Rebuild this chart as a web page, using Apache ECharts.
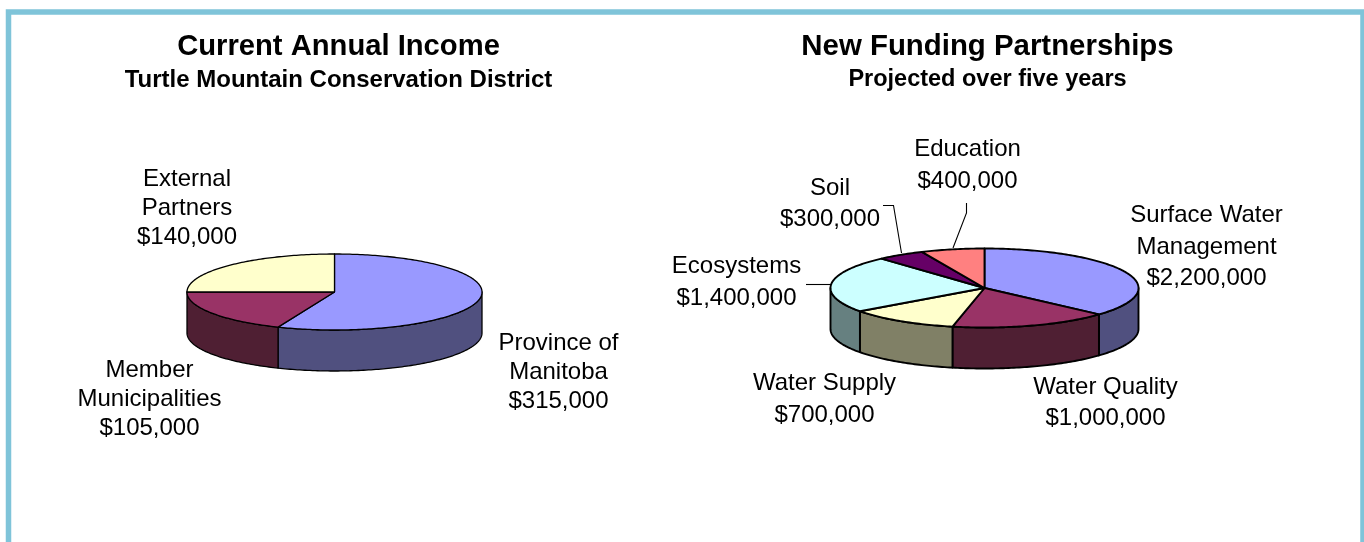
<!DOCTYPE html>
<html>
<head>
<meta charset="utf-8">
<style>
  html, body { margin: 0; padding: 0; background: #fff; }
  #chart { width: 1364px; height: 542px; }
</style>
<script src="https://cdn.jsdelivr.net/npm/echarts@6/dist/echarts.min.js"></script>
</head>
<body>
<div id="chart"></div>
<script>
const incomeNames = ['Province of\nManitoba', 'Member\nMunicipalities', 'External\nPartners'];
const incomeValues = [315000, 105000, 140000];
const incomeTops = ['#9999ff', '#993366', '#ffffcc'];
const incomeWalls = ['#50507f', '#4f1f33', '#808066'];

const fundingNames = ['Surface Water\nManagement', 'Water Quality', 'Water Supply', 'Ecosystems', 'Soil', 'Education'];
const fundingValues = [2200000, 1000000, 700000, 1400000, 300000, 400000];
const fundingTops = ['#9999ff', '#993366', '#ffffcc', '#ccffff', '#660066', '#ff8080'];
const fundingWalls = ['#50507f', '#4f1f33', '#808066', '#668080', '#330033', '#804040'];

const FONT = '"Liberation Sans", Arial, sans-serif';

const incomePie = {
  cx: 334.5, cy: 292, rx: 147.5, ry: 38, depth: 41, line: 1.3, lineHeight: 29,
  labels: [[558.5, 372.5], [149.5, 399.5], [187, 208]],
  leaders: []
};
const fundingPie = {
  cx: 984.5, cy: 288, rx: 154, ry: 39.5, depth: 41, line: 1.9, lineHeight: 31.5,
  labels: [[1206.5, 247], [1105.5, 403], [824.5, 399.5], [736.5, 282.5], [830, 204], [967.5, 165.5]],
  leaders: [
    [[883, 205.5], [893.5, 205.5], [901.5, 253]],
    [[966.5, 203], [966.5, 213], [953, 248]],
    [[806, 284.5], [832, 284.5]]
  ]
};

function money(v) {
  return '$' + v.toLocaleString('en-US');
}

// slice angles, clockwise from 12 o'clock
function sliceAngles(values) {
  const total = values.reduce((a, b) => a + b, 0);
  let run = 0;
  return values.map(v => {
    const start = run / total * 360;
    run += v;
    return [start, run / total * 360];
  });
}

function arc(pie, from, to, dy) {
  const pts = [];
  const n = Math.max(2, Math.ceil(to - from));
  for (let i = 0; i <= n; i++) {
    const t = (from + (to - from) * i / n) * Math.PI / 180;
    pts.push([pie.cx + pie.rx * Math.sin(t), pie.cy - pie.ry * Math.cos(t) + dy]);
  }
  return pts;
}

function wallSeries(pie, values, colors) {
  const angles = sliceAngles(values);
  return {
    type: 'custom',
    coordinateSystem: 'none',
    z: 1,
    silent: true,
    data: values,
    renderItem: params => {
      const [a, b] = angles[params.dataIndex];
      // only the front half of the rim shows
      const from = Math.max(a, 90), to = Math.min(b, 270);
      if (to <= from) return { type: 'group', children: [] };
      const pts = arc(pie, from, to, 0).concat(arc(pie, from, to, pie.depth).reverse());
      return {
        type: 'polygon',
        shape: { points: pts },
        style: { fill: colors[params.dataIndex], stroke: '#000', lineWidth: pie.line, lineJoin: 'round' }
      };
    }
  };
}

function topSeries(pie, names, values, colors) {
  const angles = sliceAngles(values);
  return {
    type: 'custom',
    coordinateSystem: 'none',
    z: 2,
    silent: true,
    data: values,
    renderItem: params => {
      const i = params.dataIndex;
      const [a, b] = angles[i];
      const pts = [[pie.cx, pie.cy]].concat(arc(pie, a, b, 0));
      return {
        type: 'group',
        children: [
          {
            type: 'polygon',
            shape: { points: pts },
            style: { fill: colors[i], stroke: '#000', lineWidth: pie.line, lineJoin: 'round' }
          },
          {
            type: 'text',
            x: pie.labels[i][0],
            y: pie.labels[i][1],
            style: {
              text: names[i] + '\n' + money(values[i]),
              font: '24px ' + FONT,
              fill: '#000',
              align: 'center',
              verticalAlign: 'middle',
              lineHeight: pie.lineHeight
            }
          }
        ]
      };
    }
  };
}

function leaderGraphics(pie) {
  return pie.leaders.map(points => ({
    type: 'polyline',
    shape: { points },
    style: { stroke: '#000', lineWidth: 1.1, fill: null }
  }));
}

const chart = echarts.init(document.getElementById('chart'), null, { renderer: 'canvas' });

chart.setOption({
  animation: false,
  backgroundColor: '#fff',
  title: [
    {
      text: 'Current Annual Income',
      subtext: 'Turtle Mountain Conservation District',
      left: 333.5, top: 25, textAlign: 'center', itemGap: 3,
      textStyle: { fontFamily: FONT, fontSize: 29.2, fontWeight: 'bold', color: '#000', lineHeight: 34 },
      subtextStyle: { fontFamily: FONT, fontSize: 24, fontWeight: 'bold', color: '#000', lineHeight: 26 }
    },
    {
      text: 'New Funding Partnerships',
      subtext: 'Projected over five years',
      left: 982.5, top: 25, textAlign: 'center', itemGap: 3,
      textStyle: { fontFamily: FONT, fontSize: 29.4, fontWeight: 'bold', color: '#000', lineHeight: 34 },
      subtextStyle: { fontFamily: FONT, fontSize: 23.5, fontWeight: 'bold', color: '#000', lineHeight: 26 }
    }
  ],
  graphic: [
    {
      type: 'rect',
      shape: { x: 8.5, y: 12, width: 1354.5, height: 560 },
      style: { fill: null, stroke: '#7fc4d9', lineWidth: 5.5 }
    }
  ].concat(leaderGraphics(incomePie), leaderGraphics(fundingPie)),
  series: [
    wallSeries(incomePie, incomeValues, incomeWalls),
    topSeries(incomePie, incomeNames, incomeValues, incomeTops),
    wallSeries(fundingPie, fundingValues, fundingWalls),
    topSeries(fundingPie, fundingNames, fundingValues, fundingTops)
  ]
});
</script>
</body>
</html>
